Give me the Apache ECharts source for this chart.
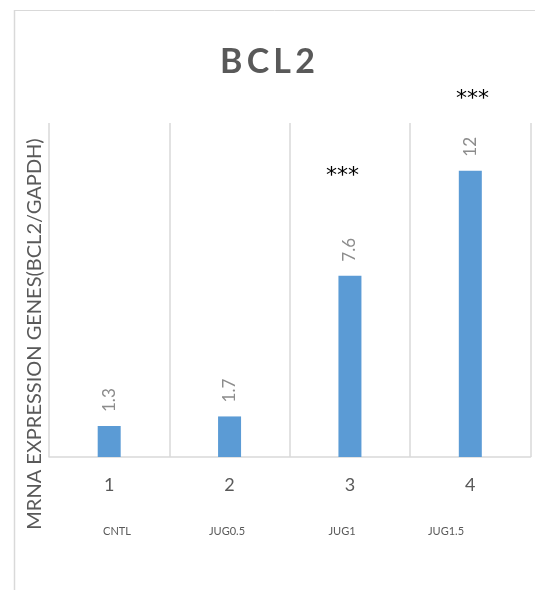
<!DOCTYPE html>
<html>
<head>
<meta charset="utf-8">
<script src="https://cdn.jsdelivr.net/npm/echarts@6/dist/echarts.min.js"></script>
<style>
html,body{margin:0;padding:0;background:#fff;}
#c{width:535px;height:590px;}
</style>
</head>
<body>
<div id="c"></div>
<script>
var categories = ['1', '2', '3', '4'];
var groupNames = ['CNTL', 'JUG0.5', 'JUG1', 'JUG1.5'];
var values = [1.3, 1.7, 7.6, 12];
var valueLabels = ['1.3', '1.7', '7.6', '12'];
var significance = ['', '', '***', '***'];
var yAxisTitle = 'MRNA EXPRESSION GENES(BCL2/GAPDH)';
var chartTitle = 'BCL2';

var FONT = 'Lato, "Open Sans", sans-serif';
var STAR_FONT = '"DejaVu Sans", sans-serif';
var chart = echarts.init(document.getElementById('c'));
chart.setOption({
  animation: false,
  backgroundColor: '#fff',
  title: {
    text: chartTitle.split('').join('\u2009'),
    left: 'center',
    top: 40,
    textStyle: {fontFamily: FONT, fontSize: 34, fontWeight: 'bold', color: '#595959'}
  },
  grid: {left: 49, right: 4.5, top: 123, bottom: 133, containLabel: false},
  xAxis: {
    type: 'category',
    data: categories,
    axisLine: {show: true, lineStyle: {color: '#d9d9d9', width: 1.5}},
    axisTick: {show: false},
    splitLine: {show: true, lineStyle: {color: '#d9d9d9', width: 1.5}},
    axisLabel: {margin: 19, fontFamily: FONT, fontSize: 18, color: '#595959'}
  },
  yAxis: {
    type: 'value', min: 0, max: 14,
    axisLine: {show: false}, axisTick: {show: false},
    axisLabel: {show: false}, splitLine: {show: false}
  },
  series: [{
    type: 'bar',
    data: values,
    barWidth: 23,
    itemStyle: {color: '#5B9BD5'},
    label: {
      show: true,
      position: 'top',
      distance: 14,
      rotate: 90,
      align: 'left',
      verticalAlign: 'middle',
      fontFamily: FONT,
      fontSize: 17,
      color: '#8c8c8c',
      formatter: function (p) { return valueLabels[p.dataIndex]; }
    }
  }],
  graphic: [
    {type: 'line', shape: {x1: 14, y1: 10.5, x2: 535, y2: 10.5}, style: {stroke: '#d9d9d9', lineWidth: 1}},
    {type: 'line', shape: {x1: 14.5, y1: 10, x2: 14.5, y2: 590}, style: {stroke: '#d9d9d9', lineWidth: 1.5}},
    {type: 'text', x: 35, y: 334, rotation: Math.PI / 2,
     style: {text: yAxisTitle, fontFamily: FONT, fontSize: 20, fill: '#595959', textAlign: 'center', textVerticalAlign: 'middle'}},
    {type: 'text', x: 117, y: 531, style: {text: groupNames[0], fontFamily: FONT, fontSize: 11, fill: '#595959', textAlign: 'center', textVerticalAlign: 'middle'}},
    {type: 'text', x: 227, y: 531, style: {text: groupNames[1], fontFamily: FONT, fontSize: 11, fill: '#595959', textAlign: 'center', textVerticalAlign: 'middle'}},
    {type: 'text', x: 342, y: 531, style: {text: groupNames[2], fontFamily: FONT, fontSize: 11, fill: '#595959', textAlign: 'center', textVerticalAlign: 'middle'}},
    {type: 'text', x: 446, y: 531, style: {text: groupNames[3], fontFamily: FONT, fontSize: 11, fill: '#595959', textAlign: 'center', textVerticalAlign: 'middle'}},
    {type: 'text', x: 342.5, y: 176, style: {text: significance[2], fontFamily: STAR_FONT, fontSize: 22, fill: '#000', textAlign: 'center', textVerticalAlign: 'middle'}},
    {type: 'text', x: 472.5, y: 99, style: {text: significance[3], fontFamily: STAR_FONT, fontSize: 22, fill: '#000', textAlign: 'center', textVerticalAlign: 'middle'}}
  ]
});
</script>
</body>
</html>
